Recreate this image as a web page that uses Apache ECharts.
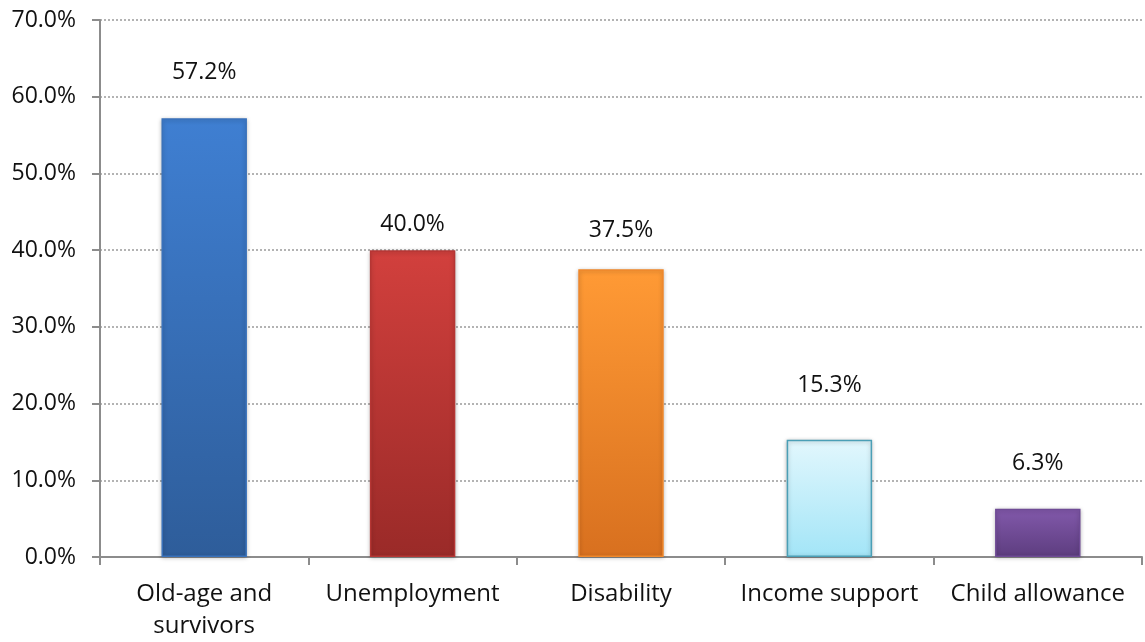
<!DOCTYPE html>
<html>
<head>
<meta charset="utf-8">
<script src="https://cdn.jsdelivr.net/npm/echarts@6/dist/echarts.min.js"></script>
<style>
  html, body { margin: 0; padding: 0; background: #fff; }
  #chart { width: 1145px; height: 642px; }
</style>
</head>
<body>
<div id="chart"></div>
<script>
// Share of expenditure by benefit type
const categories = ['Old-age and\nsurvivors', 'Unemployment', 'Disability', 'Income support', 'Child allowance'];
const shares = [57.2, 40.0, 37.5, 15.3, 6.3];
const yTicks = [0, 10, 20, 30, 40, 50, 60, 70];

// Bar fills: [top, bottom, border]
const fills = [
  ['#3f7fd2', '#2e5d9a', '#3a72bb'],
  ['#d2403d', '#9a2a28', '#b53634'],
  ['#ff9a35', '#d8701f', '#f0882b'],
  ['#e2f7fd', '#a3e5f7', '#4b9fb6'],
  ['#8259ab', '#5d3d7f', '#6f4b96']
];
// Vertical gap between each bar top and its value label
const labelGaps = [34, 14, 27, 43, 34];

const chart = echarts.init(document.getElementById('chart'));
const font = '"Open Sans", "Liberation Sans", sans-serif';
const fs = 23;

chart.setOption({
  animation: false,
  grid: { left: 100, right: 3, top: 20, bottom: 85, containLabel: false },
  xAxis: {
    type: 'category',
    data: categories,
    axisLine: { lineStyle: { color: '#8c8c8c', width: 2 } },
    axisTick: { show: true, length: 8, alignWithLabel: false, lineStyle: { color: '#8c8c8c', width: 2 } },
    axisLabel: { color: '#111', fontSize: 24, fontFamily: font, lineHeight: 32, margin: 21, interval: 0 }
  },
  yAxis: {
    type: 'value',
    min: yTicks[0],
    max: yTicks[yTicks.length - 1],
    interval: 10,
    axisLine: { show: true, lineStyle: { color: '#8c8c8c', width: 2 } },
    axisTick: { show: true, length: 8, lineStyle: { color: '#8c8c8c', width: 2 } },
    axisLabel: {
      color: '#111', fontSize: fs, fontFamily: font, margin: 24,
      formatter: v => v.toFixed(1) + '%'
    },
    splitLine: { show: true, lineStyle: { color: '#9a9a9a', type: [2, 2], width: 1.5 } }
  },
  series: [{
    type: 'bar',
    barWidth: '41%',
    data: shares.map((v, i) => ({
      value: v,
      itemStyle: {
        color: new echarts.graphic.LinearGradient(0, 0, 0, 1, [
          { offset: 0, color: fills[i][0] },
          { offset: 1, color: fills[i][1] }
        ]),
        borderColor: fills[i][2],
        borderWidth: 1.5,
        shadowColor: 'rgba(0,0,0,0.25)',
        shadowBlur: 4,
        shadowOffsetY: 1
      },
      label: { distance: labelGaps[i] }
    })),
    label: {
      show: true,
      position: 'top',
      color: '#111',
      fontSize: fs,
      fontFamily: font,
      formatter: p => p.value.toFixed(1) + '%'
    }
  }]
});
</script>
</body>
</html>
